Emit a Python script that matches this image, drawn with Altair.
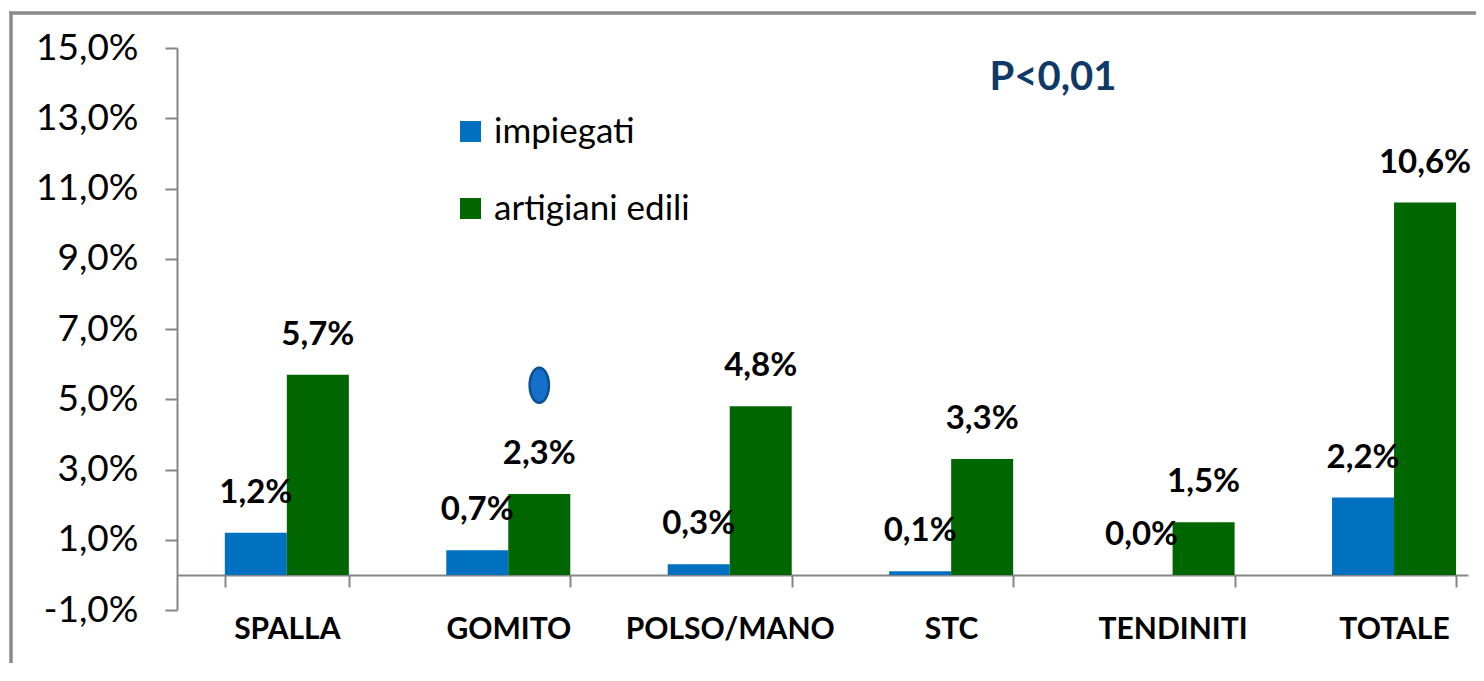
import altair as alt
import pandas as pd

categories = ["SPALLA", "GOMITO", "POLSO/MANO", "STC", "TENDINITI", "TOTALE"]
series_names = ["impiegati", "artigiani edili"]
impiegati = [1.2, 0.7, 0.3, 0.1, 0.0, 2.2]
artigiani = [5.7, 2.3, 4.8, 3.3, 1.5, 10.6]
y_ticks = [-1, 1, 3, 5, 7, 9, 11, 13, 15]
colors = ["#0070C0", "#006600"]
annotation = ["P<0,01"]
marker_category = ["GOMITO"]
marker_series = ["artigiani edili"]
marker_value = [5.4]

rows = []
for c, a, b in zip(categories, impiegati, artigiani):
    rows.append({"cat": c, "serie": series_names[0], "val": a})
    rows.append({"cat": c, "serie": series_names[1], "val": b})
df = pd.DataFrame(rows)
df["label"] = df["val"].map(lambda v: f"{v:.1f}".replace(".", ",") + "%")

marker_df = pd.DataFrame({"cat": marker_category, "serie": marker_series, "val": marker_value})
ann_df = pd.DataFrame({"t": annotation})
frame_df = pd.DataFrame({"k": [0]})

GRAY = "#868686"
W, H = 1291, 562

x_enc = alt.X(
    "cat:N",
    sort=categories,
    scale=alt.Scale(paddingInner=0.44, paddingOuter=0.135, align=0.80),
    axis=alt.Axis(
        title=None, labelAngle=0, offset=-35, tickBand="extent", tickSize=12,
        domainColor=GRAY, tickColor=GRAY, domainWidth=2, tickWidth=2,
        labelFont="Lato", labelFontWeight="bold", labelFontSize=30,
        labelColor="black", labelPadding=42, labelBaseline="middle",
        labelLimit=400, grid=False,
    ),
)
xoff_enc = alt.XOffset("serie:N", sort=series_names,
                       scale=alt.Scale(paddingInner=0, paddingOuter=0))
y_enc = alt.Y(
    "val:Q",
    scale=alt.Scale(domain=[-1, 15], nice=False, zero=False),
    axis=alt.Axis(
        values=y_ticks, title=None, grid=False,
        labelExpr="replace(replace(format(datum.value, '.1f'), '.', ','), '\u2212', '-') + '%'",
        tickSize=12, labelPadding=27, labelFont="Lato", labelFontSize=37,
        labelColor="black", domainColor=GRAY, tickColor=GRAY,
        domainWidth=2, tickWidth=2,
    ),
)

bars = alt.Chart(df).mark_bar().encode(
    x=x_enc, xOffset=xoff_enc, y=y_enc,
    color=alt.Color("serie:N", sort=series_names,
                    scale=alt.Scale(domain=series_names, range=colors),
                    legend=alt.Legend(title=None)),
)

labels = alt.Chart(df).mark_text(
    dy=-40, baseline="middle", font="Lato", fontWeight="bold", fontSize=33, color="black"
).encode(x=x_enc, xOffset=xoff_enc, y=y_enc, text="label:N")

oval_path = "M0,-1 A0.55,1 0 1,1 0,1 A0.55,1 0 1,1 0,-1 Z"
oval = alt.Chart(marker_df).mark_point(
    shape=oval_path, size=1225, filled=True, fill="#1470C8", stroke="#0D4F94",
    strokeWidth=2.5, opacity=1,
).encode(x=x_enc, xOffset=xoff_enc, y=y_enc)

ann = alt.Chart(ann_df).mark_text(
    font="Lato", fontWeight="bold", fontSize=40, color="#0F3A68",
    align="center", baseline="middle",
).encode(x=alt.value(876), y=alt.value(30), text="t:N")

frame_left = alt.Chart(frame_df).mark_rule(color="#8A8A8A", strokeWidth=3.5).encode(
    x=alt.value(-166), y=alt.value(-36.5), y2=alt.value(625))
frame_top = alt.Chart(frame_df).mark_rule(color="#8A8A8A", strokeWidth=3.5).encode(
    x=alt.value(-167.7), x2=alt.value(W + 8), y=alt.value(-35))

chart = alt.layer(frame_left, frame_top, bars, labels, oval, ann).properties(
    width=W, height=H,
    autosize=alt.AutoSizeParams(type="none"),
    padding={"left": 169, "top": 40, "right": 8, "bottom": 53},
).configure_view(stroke="transparent", strokeWidth=0).configure_legend(
    orient="none", legendX=276, legendY=66, symbolType="square", symbolSize=441,
    symbolStrokeWidth=0, labelFont="Lato", labelFontSize=35, labelColor="black",
    rowPadding=41, labelOffset=6, padding=0, labelLimit=500,
)

chart.save("out.html", embed_options={"renderer": "svg", "actions": False})
